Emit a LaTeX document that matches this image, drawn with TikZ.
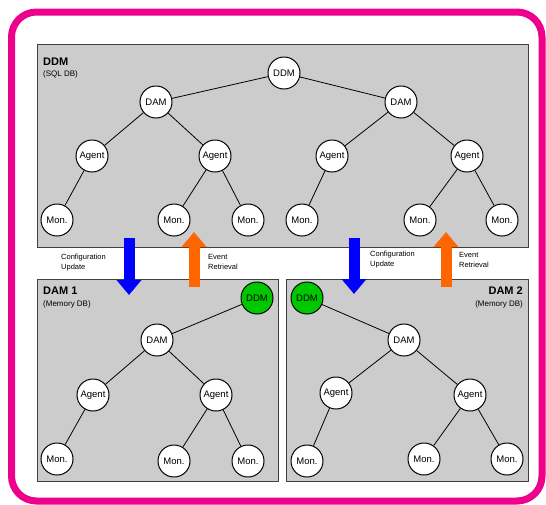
\documentclass[tikz,border=0pt]{standalone}
\usepackage{fontspec}
\setmainfont{Liberation Sans}
\usetikzlibrary{arrows.meta, positioning}

\definecolor{frame}{RGB}{236,0,140}
\definecolor{panel}{RGB}{204,204,204}
\definecolor{live}{RGB}{0,200,0}
\definecolor{push}{RGB}{0,0,255}
\definecolor{pull}{RGB}{255,102,0}

\begin{document}
\begin{tikzpicture}[
        x=1pt, y=-1pt,
        n/.style={draw, circle, fill=white, line width=1pt, minimum size=32pt, inner sep=0pt, font=\fontsize{9.5}{10}\selectfont},
        g/.style={n, fill=live},
        box/.style={draw=black!75, fill=panel, line width=0.9pt},
        e/.style={line width=0.8pt},
        lbl/.style={inner sep=0pt, font=\fontsize{7.5}{10}\selectfont, align=left, anchor=west},
        ttl/.style={inner sep=0pt, font=\bfseries\fontsize{11}{12}\selectfont},
        sub/.style={inner sep=0pt, font=\fontsize{8}{9}\selectfont},
        blk/.style={line width=11pt, -{Triangle[length=15pt, width=24pt]}}
    ]
        \useasboundingbox (0,0) rectangle (546,504);
        \draw[frame, line width=7pt, rounded corners=25pt, fill=white] (11.5,12) rectangle (542,501);

        \draw[box] (37,44) rectangle (528,247);
        \draw[box] (37,279) rectangle (278,481);
        \draw[box] (286,279) rectangle (528,481);

        \node[ttl, anchor=west] (hddm) at (43,62) {DDM};
        \node[sub, anchor=west] (sddm) at (43,74) {(SQL DB)};
        \node[ttl, anchor=west] (hdam1) at (43,291) {DAM 1};
        \node[sub, anchor=west] (sdam1) at (43,304) {(Memory DB)};
        \node[ttl, anchor=east] (hdam2) at (523,291) {DAM 2};
        \node[sub, anchor=east] (sdam2) at (523,304) {(Memory DB)};

        % main tree
        \node[n] (ddm) at (284,73) {DDM};
        \node[n] (dama) at (156,102) {DAM};
        \node[n] (damb) at (401,102) {DAM};
        \node[n] (aga) at (92,156) {Agent};
        \node[n] (agb) at (215,156) {Agent};
        \node[n] (agc) at (332,156) {Agent};
        \node[n] (agd) at (467,156) {Agent};
        \node[n] (mona) at (57,220) {Mon.};
        \node[n] (monb) at (174,220) {Mon.};
        \node[n] (monc) at (248,220) {Mon.};
        \node[n] (mond) at (302,220) {Mon.};
        \node[n] (mone) at (420,220) {Mon.};
        \node[n] (monf) at (502,220) {Mon.};

        \draw[e] (ddm) -- (dama);
        \draw[e] (ddm) -- (damb);
        \draw[e] (dama) -- (aga);
        \draw[e] (dama) -- (agb);
        \draw[e] (damb) -- (agc);
        \draw[e] (damb) -- (agd);
        \draw[e] (aga) -- (mona);
        \draw[e] (agb) -- (monb);
        \draw[e] (agb) -- (monc);
        \draw[e] (agc) -- (mond);
        \draw[e] (agd) -- (mone);
        \draw[e] (agd) -- (monf);

        % DAM 1
        \node[g] (ddmx) at (257,298) {DDM};
        \node[n] (damx) at (157,340) {DAM};
        \node[n] (agx1) at (93,395) {Agent};
        \node[n] (agx2) at (216,395) {Agent};
        \node[n] (monx1) at (57,459) {Mon.};
        \node[n] (monx2) at (174,461) {Mon.};
        \node[n] (monx3) at (248,461) {Mon.};

        \draw[e] (ddmx) -- (damx);
        \draw[e] (damx) -- (agx1);
        \draw[e] (damx) -- (agx2);
        \draw[e] (agx1) -- (monx1);
        \draw[e] (agx2) -- (monx2);
        \draw[e] (agx2) -- (monx3);

        % DAM 2
        \node[g] (ddmy) at (307,298) {DDM};
        \node[n] (damy) at (404,340) {DAM};
        \node[n] (agy1) at (336,393) {Agent};
        \node[n] (agy2) at (470,395) {Agent};
        \node[n] (mony1) at (307,461) {Mon.};
        \node[n] (mony2) at (424,459) {Mon.};
        \node[n] (mony3) at (507,459) {Mon.};

        \draw[e] (ddmy) -- (damy);
        \draw[e] (damy) -- (agy1);
        \draw[e] (damy) -- (agy2);
        \draw[e] (agy1) -- (mony1);
        \draw[e] (agy2) -- (mony2);
        \draw[e] (agy2) -- (mony3);

        % update / retrieval arrows
        \coordinate (cfg1s) at (129,238);
        \coordinate (cfg1t) at (129,295);
        \coordinate (evt1s) at (194,287);
        \coordinate (evt1t) at (194,232);
        \coordinate (cfg2s) at (354,238);
        \coordinate (cfg2t) at (354,294);
        \coordinate (evt2s) at (446,287);
        \coordinate (evt2t) at (446,232);

        \draw[blk, push] (cfg1s) -- (cfg1t);
        \draw[blk, pull] (evt1s) -- (evt1t);
        \draw[blk, push] (cfg2s) -- (cfg2t);
        \draw[blk, pull] (evt2s) -- (evt2t);

        \node[lbl] (cfg1) at (61,263) {Configuration\\Update};
        \node[lbl] (evt1) at (208,262) {Event\\Retrieval};
        \node[lbl] (cfg2) at (370,260) {Configuration\\Update};
        \node[lbl] (evt2) at (459,260) {Event\\Retrieval};
    \end{tikzpicture}
\end{document}
